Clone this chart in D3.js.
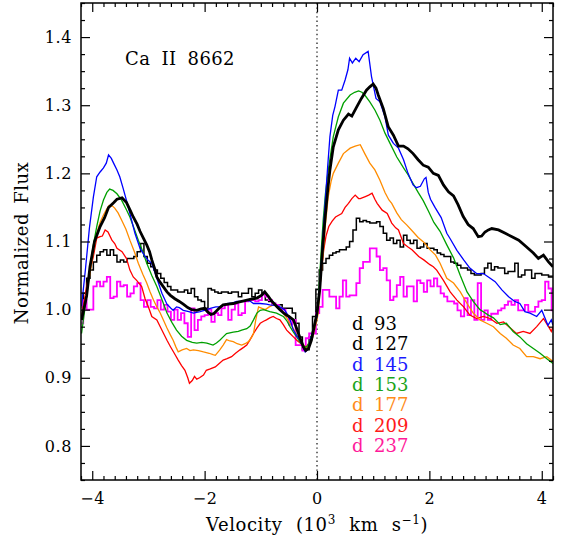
<!DOCTYPE html>
<html>
<head>
<meta charset="utf-8">
<script src="https://cdn.jsdelivr.net/npm/d3@7/dist/d3.min.js"></script>
<style>
  html, body { margin: 0; padding: 0; background: #fff; }
  svg { display: block; }
</style>
</head>
<body>
<svg id="chart" width="567" height="538"></svg>
<script>
// Ca II 8662 line profiles: [velocity (10^3 km/s), normalized flux]
const d93 = [[-4.19,0.985],[-4.10,1.02],[-4.04,1.063],[-3.96,1.100],[-3.86,1.122],[-3.78,1.135],[-3.71,1.150],[-3.62,1.157],[-3.56,1.162],[-3.47,1.164],[-3.39,1.157],[-3.32,1.145],[-3.27,1.136],[-3.20,1.125],[-3.15,1.115],[-3.09,1.105],[-3.03,1.095],[-2.98,1.085],[-2.94,1.073],[-2.88,1.058],[-2.85,1.048],[-2.79,1.040],[-2.73,1.033],[-2.67,1.026],[-2.61,1.021],[-2.53,1.016],[-2.45,1.012],[-2.38,1.008],[-2.30,1.003],[-2.23,1.0],[-2.14,0.999],[-2.06,1.001],[-2.0,1.002],[-1.95,0.997],[-1.89,0.993],[-1.84,0.994],[-1.79,0.998],[-1.73,1.003],[-1.67,1.007],[-1.58,1.008],[-1.49,1.009],[-1.40,1.011],[-1.30,1.013],[-1.19,1.015],[-1.07,1.017],[-0.99,1.021],[-0.93,1.026],[-0.87,1.02],[-0.80,1.012],[-0.72,1.005],[-0.66,1.0],[-0.58,0.994],[-0.50,0.99],[-0.42,0.985],[-0.36,0.972],[-0.30,0.958],[-0.24,0.945],[-0.20,0.940],[-0.15,0.943],[-0.10,0.955],[-0.05,0.975],[0.0,0.995],[0.05,1.03],[0.10,1.09],[0.14,1.131],[0.19,1.175],[0.23,1.205],[0.29,1.239],[0.38,1.264],[0.47,1.278],[0.56,1.287],[0.62,1.284],[0.71,1.298],[0.79,1.310],[0.88,1.322],[0.94,1.327],[1.0,1.331],[1.05,1.325],[1.09,1.315],[1.18,1.295],[1.27,1.268],[1.36,1.256],[1.45,1.240],[1.54,1.240],[1.62,1.236],[1.71,1.229],[1.80,1.220],[1.89,1.212],[1.98,1.209],[2.07,1.200],[2.16,1.197],[2.25,1.183],[2.34,1.173],[2.43,1.167],[2.51,1.154],[2.60,1.137],[2.69,1.125],[2.78,1.119],[2.87,1.107],[2.93,1.108],[2.99,1.114],[3.05,1.117],[3.11,1.119],[3.23,1.117],[3.35,1.112],[3.47,1.107],[3.59,1.102],[3.73,1.092],[3.85,1.083],[3.94,1.075],[4.03,1.080],[4.12,1.070],[4.2,1.063]];

const d127 = [[-4.19,1.004],[-4.13,1.024],[-4.07,1.046],[-4.01,1.058],[-3.95,1.070],[-3.89,1.080],[-3.83,1.085],[-3.77,1.088],[-3.71,1.080],[-3.65,1.088],[-3.59,1.080],[-3.53,1.070],[-3.47,1.073],[-3.41,1.070],[-3.35,1.075],[-3.29,1.075],[-3.23,1.078],[-3.17,1.085],[-3.11,1.097],[-3.05,1.078],[-2.99,1.068],[-2.93,1.063],[-2.87,1.058],[-2.81,1.053],[-2.75,1.046],[-2.69,1.040],[-2.63,1.034],[-2.57,1.029],[-2.51,1.029],[-2.45,1.026],[-2.39,1.026],[-2.33,1.029],[-2.27,1.024],[-2.21,1.031],[-2.15,1.019],[-2.09,1.014],[-2.03,1.012],[-1.97,1.002],[-1.91,1.031],[-1.85,1.029],[-1.79,1.026],[-1.73,1.024],[-1.67,1.026],[-1.61,1.026],[-1.55,1.024],[-1.49,1.026],[-1.43,1.026],[-1.37,1.019],[-1.31,1.024],[-1.25,1.024],[-1.19,1.031],[-1.13,1.019],[-1.07,1.024],[-1.01,1.029],[-0.95,1.024],[-0.89,1.014],[-0.83,1.012],[-0.77,1.009],[-0.71,1.007],[-0.65,1.007],[-0.59,1.002],[-0.53,1.002],[-0.47,1.002],[-0.41,0.995],[-0.35,0.980],[-0.29,0.960],[-0.23,0.941],[-0.17,0.941],[-0.11,0.960],[-0.05,0.990],[0.01,1.030],[0.07,1.058],[0.13,1.068],[0.19,1.075],[0.25,1.080],[0.31,1.083],[0.37,1.085],[0.43,1.088],[0.49,1.088],[0.55,1.092],[0.61,1.100],[0.67,1.117],[0.73,1.134],[0.79,1.129],[0.85,1.131],[0.91,1.129],[0.97,1.127],[1.03,1.127],[1.09,1.129],[1.15,1.122],[1.21,1.112],[1.27,1.102],[1.33,1.105],[1.39,1.097],[1.45,1.102],[1.51,1.092],[1.57,1.109],[1.63,1.102],[1.69,1.097],[1.75,1.102],[1.81,1.090],[1.87,1.092],[1.93,1.097],[1.99,1.090],[2.05,1.090],[2.11,1.088],[2.17,1.083],[2.23,1.081],[2.29,1.078],[2.35,1.078],[2.41,1.070],[2.47,1.068],[2.53,1.065],[2.59,1.061],[2.65,1.061],[2.71,1.058],[2.77,1.053],[2.83,1.051],[2.89,1.051],[2.95,1.053],[3.01,1.061],[3.07,1.068],[3.13,1.058],[3.19,1.063],[3.25,1.061],[3.31,1.061],[3.37,1.053],[3.43,1.056],[3.49,1.056],[3.55,1.068],[3.61,1.048],[3.67,1.051],[3.73,1.058],[3.79,1.058],[3.85,1.046],[3.91,1.053],[3.97,1.053],[4.03,1.051],[4.09,1.051],[4.15,1.048],[4.2,1.048]];

const d145 = [[-4.19,1.005],[-4.12,1.06],[-4.05,1.12],[-3.98,1.165],[-3.92,1.195],[-3.86,1.202],[-3.80,1.208],[-3.75,1.215],[-3.71,1.227],[-3.66,1.222],[-3.62,1.215],[-3.56,1.205],[-3.51,1.195],[-3.45,1.178],[-3.39,1.160],[-3.32,1.138],[-3.24,1.112],[-3.15,1.090],[-3.06,1.078],[-3.0,1.072],[-2.94,1.068],[-2.90,1.058],[-2.85,1.046],[-2.76,1.024],[-2.67,1.008],[-2.60,1.002],[-2.56,0.999],[-2.50,1.004],[-2.45,1.003],[-2.38,0.999],[-2.28,0.997],[-2.20,0.995],[-2.08,0.997],[-1.96,1.0],[-1.90,1.002],[-1.80,1.004],[-1.73,1.004],[-1.61,1.009],[-1.50,1.010],[-1.43,1.012],[-1.33,1.012],[-1.25,1.014],[-1.18,1.012],[-1.13,1.009],[-1.01,1.009],[-0.90,1.008],[-0.84,1.007],[-0.72,1.006],[-0.66,1.004],[-0.58,1.0],[-0.54,0.995],[-0.48,0.985],[-0.42,0.970],[-0.36,0.962],[-0.30,0.955],[-0.25,0.945],[-0.21,0.938],[-0.16,0.942],[-0.12,0.955],[-0.06,0.972],[0.0,0.99],[0.05,1.034],[0.10,1.10],[0.14,1.151],[0.19,1.21],[0.23,1.254],[0.28,1.285],[0.32,1.298],[0.38,1.322],[0.44,1.322],[0.50,1.337],[0.55,1.352],[0.58,1.369],[0.63,1.362],[0.69,1.369],[0.75,1.364],[0.82,1.374],[0.91,1.379],[0.97,1.342],[1.05,1.310],[1.12,1.305],[1.21,1.283],[1.27,1.256],[1.36,1.244],[1.45,1.237],[1.54,1.220],[1.62,1.200],[1.71,1.183],[1.77,1.179],[1.84,1.181],[1.91,1.192],[1.94,1.194],[1.98,1.172],[2.02,1.162],[2.10,1.150],[2.21,1.135],[2.31,1.112],[2.37,1.104],[2.49,1.087],[2.61,1.073],[2.72,1.061],[2.84,1.053],[2.96,1.053],[3.05,1.048],[3.17,1.041],[3.29,1.029],[3.41,1.019],[3.52,1.012],[3.61,1.009],[3.70,0.997],[3.79,0.995],[3.91,0.990],[4.0,0.999],[4.11,0.977],[4.17,0.985],[4.2,0.977]];

const d153 = [[-4.19,0.965],[-4.10,1.02],[-4.04,1.063],[-3.98,1.095],[-3.92,1.122],[-3.86,1.145],[-3.80,1.161],[-3.74,1.172],[-3.69,1.177],[-3.63,1.175],[-3.56,1.170],[-3.48,1.161],[-3.40,1.148],[-3.33,1.136],[-3.25,1.118],[-3.18,1.102],[-3.10,1.085],[-3.03,1.068],[-2.94,1.050],[-2.85,1.034],[-2.76,1.015],[-2.67,0.995],[-2.58,0.981],[-2.50,0.970],[-2.41,0.961],[-2.32,0.955],[-2.22,0.952],[-2.14,0.951],[-2.05,0.952],[-1.96,0.951],[-1.85,0.948],[-1.79,0.951],[-1.73,0.955],[-1.67,0.960],[-1.61,0.965],[-1.49,0.967],[-1.40,0.968],[-1.34,0.970],[-1.25,0.972],[-1.19,0.976],[-1.13,0.985],[-1.07,0.995],[-1.01,0.999],[-0.95,1.0],[-0.84,0.997],[-0.72,0.995],[-0.60,0.990],[-0.54,0.984],[-0.48,0.975],[-0.42,0.967],[-0.36,0.960],[-0.30,0.952],[-0.24,0.946],[-0.18,0.945],[-0.12,0.955],[-0.06,0.975],[0.0,0.995],[0.02,1.009],[0.07,1.08],[0.11,1.131],[0.15,1.17],[0.20,1.205],[0.25,1.232],[0.29,1.254],[0.38,1.283],[0.47,1.303],[0.59,1.315],[0.67,1.319],[0.74,1.321],[0.80,1.319],[0.85,1.315],[0.94,1.305],[1.03,1.293],[1.12,1.278],[1.21,1.259],[1.30,1.244],[1.42,1.224],[1.54,1.208],[1.62,1.198],[1.71,1.185],[1.80,1.172],[1.89,1.160],[1.98,1.145],[2.08,1.128],[2.19,1.115],[2.31,1.095],[2.43,1.076],[2.55,1.050],[2.67,1.026],[2.78,1.012],[2.90,1.0],[2.96,0.997],[3.05,0.992],[3.14,0.988],[3.26,0.978],[3.37,0.980],[3.49,0.968],[3.61,0.960],[3.73,0.950],[3.85,0.943],[3.97,0.936],[4.09,0.928],[4.2,0.921]];

const d177 = [[-4.19,0.985],[-4.10,1.025],[-4.04,1.053],[-3.98,1.085],[-3.92,1.112],[-3.86,1.128],[-3.80,1.139],[-3.74,1.148],[-3.70,1.153],[-3.64,1.152],[-3.60,1.149],[-3.54,1.142],[-3.48,1.132],[-3.40,1.118],[-3.33,1.102],[-3.25,1.085],[-3.18,1.068],[-3.10,1.052],[-3.03,1.039],[-2.97,1.026],[-2.91,1.014],[-2.85,1.004],[-2.79,0.995],[-2.73,0.984],[-2.67,0.973],[-2.61,0.963],[-2.56,0.955],[-2.51,0.945],[-2.47,0.938],[-2.40,0.941],[-2.32,0.943],[-2.26,0.940],[-2.20,0.941],[-2.11,0.940],[-2.02,0.938],[-1.92,0.936],[-1.85,0.934],[-1.81,0.933],[-1.77,0.937],[-1.73,0.941],[-1.67,0.948],[-1.61,0.956],[-1.55,0.954],[-1.49,0.953],[-1.42,0.950],[-1.34,0.948],[-1.28,0.950],[-1.22,0.953],[-1.16,0.960],[-1.13,0.965],[-1.09,0.985],[-1.04,1.004],[-0.98,1.002],[-0.92,1.0],[-0.85,1.004],[-0.78,1.007],[-0.72,1.005],[-0.66,1.002],[-0.60,0.995],[-0.54,0.988],[-0.48,0.980],[-0.42,0.972],[-0.36,0.963],[-0.30,0.955],[-0.24,0.948],[-0.18,0.943],[-0.12,0.950],[-0.06,0.965],[0.0,0.985],[0.02,0.994],[0.06,1.04],[0.11,1.083],[0.15,1.125],[0.20,1.166],[0.25,1.188],[0.29,1.200],[0.38,1.215],[0.47,1.229],[0.59,1.237],[0.68,1.240],[0.77,1.242],[0.85,1.229],[0.94,1.215],[1.03,1.205],[1.12,1.190],[1.21,1.172],[1.28,1.161],[1.33,1.156],[1.42,1.142],[1.50,1.132],[1.60,1.124],[1.70,1.115],[1.80,1.106],[1.90,1.099],[2.01,1.088],[2.11,1.080],[2.19,1.068],[2.31,1.046],[2.43,1.039],[2.55,1.026],[2.67,1.009],[2.78,0.995],[2.90,0.985],[3.02,0.980],[3.14,0.975],[3.26,0.965],[3.37,0.958],[3.49,0.948],[3.61,0.943],[3.73,0.931],[3.85,0.931],[3.97,0.928],[4.09,0.931],[4.2,0.924]];

const d209 = [[-4.19,0.99],[-4.10,1.034],[-4.04,1.058],[-3.98,1.078],[-3.92,1.105],[-3.86,1.107],[-3.82,1.108],[-3.77,1.117],[-3.72,1.114],[-3.65,1.102],[-3.60,1.097],[-3.56,1.090],[-3.47,1.085],[-3.39,1.075],[-3.33,1.058],[-3.27,1.048],[-3.21,1.043],[-3.12,1.034],[-3.06,1.016],[-3.0,1.004],[-2.94,0.990],[-2.85,0.985],[-2.79,0.975],[-2.73,0.965],[-2.67,0.955],[-2.61,0.946],[-2.54,0.936],[-2.47,0.926],[-2.41,0.918],[-2.35,0.911],[-2.30,0.900],[-2.27,0.892],[-2.22,0.896],[-2.18,0.902],[-2.14,0.898],[-2.09,0.900],[-2.02,0.904],[-1.97,0.911],[-1.90,0.913],[-1.81,0.916],[-1.74,0.921],[-1.67,0.926],[-1.60,0.928],[-1.52,0.931],[-1.45,0.936],[-1.37,0.941],[-1.30,0.945],[-1.25,0.948],[-1.19,0.956],[-1.13,0.965],[-1.07,0.973],[-1.01,0.980],[-0.95,0.983],[-0.90,0.985],[-0.84,0.988],[-0.78,0.990],[-0.72,0.987],[-0.66,0.985],[-0.60,0.978],[-0.54,0.970],[-0.48,0.965],[-0.42,0.960],[-0.36,0.955],[-0.30,0.951],[-0.25,0.947],[-0.21,0.943],[-0.15,0.950],[-0.09,0.960],[-0.04,0.980],[0.02,1.004],[0.07,1.05],[0.12,1.088],[0.16,1.108],[0.21,1.122],[0.27,1.130],[0.33,1.136],[0.44,1.141],[0.50,1.150],[0.56,1.156],[0.62,1.163],[0.68,1.168],[0.74,1.163],[0.77,1.163],[0.86,1.166],[0.92,1.168],[0.98,1.171],[1.03,1.162],[1.07,1.156],[1.16,1.146],[1.25,1.141],[1.33,1.127],[1.40,1.120],[1.45,1.117],[1.54,1.097],[1.62,1.092],[1.69,1.088],[1.81,1.078],[1.90,1.073],[2.01,1.066],[2.07,1.063],[2.13,1.058],[2.25,1.043],[2.37,1.026],[2.49,1.014],[2.61,1.004],[2.72,0.992],[2.84,0.987],[2.96,0.990],[3.08,0.987],[3.20,0.980],[3.32,0.982],[3.44,0.973],[3.55,0.965],[3.67,0.968],[3.79,0.965],[3.91,0.975],[4.03,0.987],[4.12,0.975],[4.17,0.968],[4.2,0.975]];

const d237 = [[-4.19,0.980],[-4.13,1.014],[-4.07,1.0],[-4.01,1.0],[-3.95,1.034],[-3.89,1.041],[-3.83,1.034],[-3.77,1.041],[-3.71,1.048],[-3.65,1.017],[-3.59,1.019],[-3.53,1.041],[-3.47,1.034],[-3.41,1.036],[-3.35,1.019],[-3.29,1.024],[-3.23,1.034],[-3.17,1.039],[-3.11,1.014],[-3.05,1.004],[-2.99,1.014],[-2.93,1.004],[-2.87,1.002],[-2.81,1.014],[-2.75,1.0],[-2.69,1.007],[-2.63,0.997],[-2.57,0.985],[-2.51,1.0],[-2.45,0.985],[-2.39,0.995],[-2.33,0.980],[-2.27,0.960],[-2.21,1.002],[-2.15,0.970],[-2.09,0.985],[-2.03,0.990],[-1.97,0.992],[-1.91,1.0],[-1.85,0.982],[-1.79,0.995],[-1.73,0.992],[-1.67,1.002],[-1.61,1.007],[-1.55,0.985],[-1.49,1.0],[-1.43,1.009],[-1.37,0.992],[-1.31,0.995],[-1.25,1.012],[-1.19,1.014],[-1.13,1.014],[-1.07,1.012],[-1.01,1.014],[-0.95,1.022],[-0.89,1.019],[-0.83,1.014],[-0.77,1.009],[-0.71,1.007],[-0.65,1.002],[-0.59,1.0],[-0.53,0.990],[-0.47,0.978],[-0.41,0.985],[-0.35,0.948],[-0.29,0.948],[-0.23,0.940],[-0.17,0.958],[-0.11,0.965],[-0.05,0.965],[0.01,0.995],[0.07,1.004],[0.13,1.029],[0.19,1.029],[0.25,1.019],[0.31,1.019],[0.37,1.002],[0.43,1.019],[0.49,1.043],[0.55,1.019],[0.61,1.021],[0.67,1.021],[0.73,1.039],[0.79,1.061],[0.85,1.070],[0.91,1.070],[0.97,1.090],[1.03,1.090],[1.09,1.078],[1.15,1.058],[1.21,1.061],[1.27,1.043],[1.33,1.014],[1.39,1.019],[1.45,1.036],[1.51,1.048],[1.57,1.019],[1.63,1.034],[1.69,1.034],[1.75,1.012],[1.81,1.043],[1.87,1.039],[1.93,1.026],[1.99,1.043],[2.05,1.034],[2.11,1.046],[2.17,1.034],[2.23,1.024],[2.29,1.019],[2.35,1.012],[2.41,1.012],[2.47,1.009],[2.53,0.999],[2.59,0.990],[2.65,1.017],[2.71,0.992],[2.77,1.014],[2.83,0.985],[2.89,1.039],[2.95,0.985],[3.01,0.999],[3.07,0.985],[3.13,0.994],[3.19,0.994],[3.25,0.999],[3.31,1.002],[3.37,1.007],[3.43,1.012],[3.49,1.007],[3.55,1.014],[3.61,0.999],[3.67,0.999],[3.73,1.007],[3.79,0.997],[3.85,0.997],[3.91,1.004],[3.97,1.012],[4.03,1.014],[4.09,1.041],[4.15,1.031],[4.2,0.999]];

// Legend entries, in drawing order
const epochs = ["93", "127", "145", "153", "177", "209", "237"];
const xMajorTicks = [-4, -2, 0, 2, 4];
const yMajorTicks = [0.8, 0.9, 1.0, 1.1, 1.2, 1.3, 1.4];

const series = [
  { label: epochs[0], data: d93,  color: "#000000", text: "#000000", width: 2.8, step: false },
  { label: epochs[1], data: d127, color: "#000000", text: "#000000", width: 1.5, step: true },
  { label: epochs[2], data: d145, color: "#0000ff", text: "#1a1aff", width: 1.3, step: false },
  { label: epochs[3], data: d153, color: "#00a000", text: "#1aa31a", width: 1.3, step: false },
  { label: epochs[4], data: d177, color: "#ff8c00", text: "#ff8c1a", width: 1.3, step: false },
  { label: epochs[5], data: d209, color: "#ff0000", text: "#ff1a1a", width: 1.3, step: false },
  { label: epochs[6], data: d237, color: "#ff00ff", text: "#ff1a9a", width: 1.8, step: true }
];

const FONT = "'DejaVu Serif', serif";
const svg = d3.select("#chart");
const plotL = 81, plotR = 553, plotT = 3, plotB = 480;

const x = d3.scaleLinear().domain([-4.2, 4.2]).range([plotL, plotR]);
const y = d3.scaleLinear().domain([0.75, 1.45]).range([plotB, plotT]);

svg.append("defs").append("clipPath").attr("id", "plotclip")
  .append("rect").attr("x", plotL).attr("y", plotT)
  .attr("width", plotR - plotL).attr("height", plotB - plotT);

// zero-velocity marker
svg.append("line")
  .attr("x1", x(0)).attr("x2", x(0))
  .attr("y1", plotT).attr("y2", plotB)
  .attr("stroke", "#333").attr("stroke-width", 1.4)
  .attr("stroke-dasharray", "1.4,3");

// profiles
const plot = svg.append("g").attr("clip-path", "url(#plotclip)");
const drawOrder = [1, 6, 5, 4, 3, 2, 0];
drawOrder.forEach(i => {
  const s = series[i];
  const line = d3.line()
    .x(d => x(d[0])).y(d => y(d[1]))
    .curve(s.step ? d3.curveStep : d3.curveLinear);
  plot.append("path")
    .datum(s.data)
    .attr("d", line)
    .attr("fill", "none")
    .attr("stroke", s.color)
    .attr("stroke-width", s.width)
    .attr("stroke-linejoin", "miter");
});

// axes: inward ticks on all four sides
const xMinor = d3.range(-4.2, 4.2001, 0.2).map(v => +v.toFixed(2)).filter(v => !xMajorTicks.includes(v));
const yMinor = d3.range(0.75, 1.4501, 0.025).map(v => +v.toFixed(3)).filter(v => !yMajorTicks.some(t => Math.abs(t - v) < 1e-6));
const fmtX = d => d < 0 ? "\u2212" + Math.abs(d) : String(d);
const fmtY = d => d.toFixed(1);

function styleAxis(g) {
  g.select(".domain").remove();
  g.selectAll("line").attr("stroke", "#000").attr("stroke-width", 1.2);
  g.selectAll("text").attr("font-family", FONT).attr("font-size", 16)
    .attr("letter-spacing", 0.6).attr("fill", "#000");
}

svg.append("g").attr("transform", `translate(0,${plotB})`)
  .call(d3.axisBottom(x).tickValues(xMajorTicks).tickSize(-9).tickPadding(13).tickFormat(fmtX))
  .call(styleAxis);
svg.append("g").attr("transform", `translate(0,${plotB})`)
  .call(d3.axisBottom(x).tickValues(xMinor).tickSize(-4).tickFormat(""))
  .call(styleAxis);
svg.append("g").attr("transform", `translate(0,${plotT})`)
  .call(d3.axisTop(x).tickValues(xMajorTicks).tickSize(-9).tickFormat(""))
  .call(styleAxis);
svg.append("g").attr("transform", `translate(0,${plotT})`)
  .call(d3.axisTop(x).tickValues(xMinor).tickSize(-4).tickFormat(""))
  .call(styleAxis);

svg.append("g").attr("transform", `translate(${plotL},0)`)
  .call(d3.axisLeft(y).tickValues(yMajorTicks).tickSize(-9).tickPadding(9).tickFormat(fmtY))
  .call(styleAxis);
svg.append("g").attr("transform", `translate(${plotL},0)`)
  .call(d3.axisLeft(y).tickValues(yMinor).tickSize(-4).tickFormat(""))
  .call(styleAxis);
svg.append("g").attr("transform", `translate(${plotR},0)`)
  .call(d3.axisRight(y).tickValues(yMajorTicks).tickSize(-9).tickFormat(""))
  .call(styleAxis);
svg.append("g").attr("transform", `translate(${plotR},0)`)
  .call(d3.axisRight(y).tickValues(yMinor).tickSize(-4).tickFormat(""))
  .call(styleAxis);

// frame
svg.append("rect")
  .attr("x", plotL).attr("y", plotT)
  .attr("width", plotR - plotL).attr("height", plotB - plotT)
  .attr("fill", "none").attr("stroke", "#000").attr("stroke-width", 1.5);

// line identification
svg.append("text")
  .attr("x", 125).attr("y", 65)
  .attr("font-family", FONT).attr("font-size", 18)
  .attr("letter-spacing", 0.4).attr("word-spacing", 5)
  .text("Ca II 8662");

// axis titles
const xt = svg.append("text")
  .attr("x", (plotL + plotR) / 2).attr("y", 531)
  .attr("text-anchor", "middle")
  .attr("font-family", FONT).attr("font-size", 18)
  .attr("letter-spacing", 0.6).attr("word-spacing", 7);
xt.append("tspan").text("Velocity (10");
xt.append("tspan").attr("font-size", 12).attr("dy", -7).text("3");
xt.append("tspan").attr("dy", 7).text(" km s");
xt.append("tspan").attr("font-size", 12).attr("dy", -7).text("\u22121");
xt.append("tspan").attr("dy", 7).text(")");

svg.append("text")
  .attr("transform", "translate(28,243) rotate(-90)")
  .attr("text-anchor", "middle")
  .attr("font-family", FONT).attr("font-size", 18)
  .attr("letter-spacing", 0.5).attr("word-spacing", 3)
  .text("Normalized Flux");

// legend
const legend = svg.append("g");
series.forEach((s, i) => {
  const t = legend.append("text")
    .attr("y", 330 + i * 20.3)
    .attr("font-family", FONT).attr("font-size", 18)
    .attr("fill", s.text);
  t.append("tspan").attr("x", 352).text("d");
  t.append("tspan").attr("x", 374).text(s.label);
});
</script>
</body>
</html>
